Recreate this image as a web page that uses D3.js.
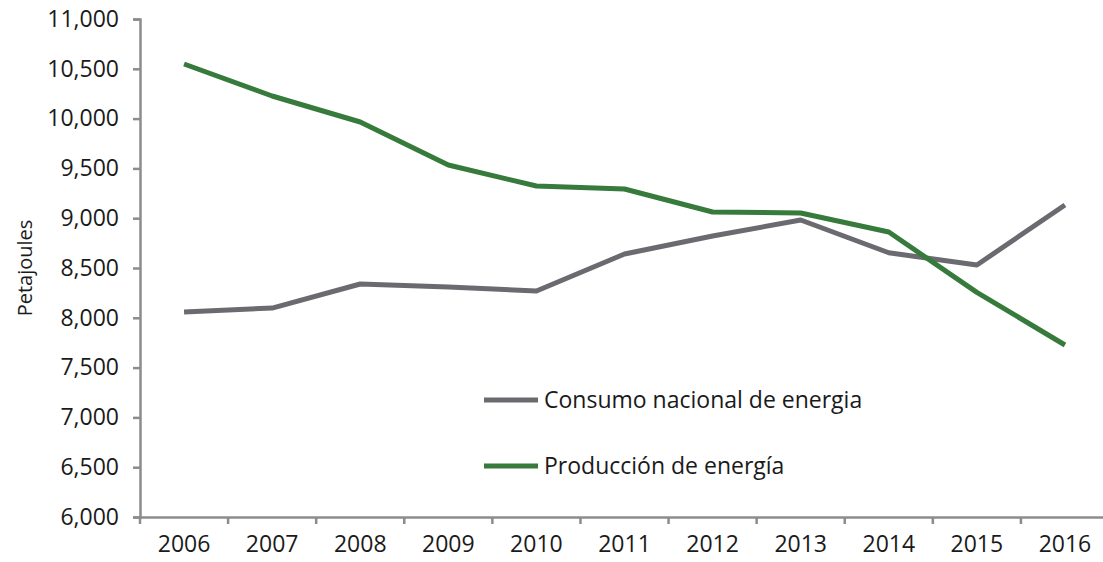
<!DOCTYPE html>
<html><head><meta charset="utf-8">
<script src="https://cdn.jsdelivr.net/npm/d3@7"></script>
<style>body{margin:0;background:#fff}svg{display:block}text{font-family:"Open Sans","Noto Sans",sans-serif;fill:#1a1a1a}</style>
</head><body><svg id="c" width="1103" height="562"></svg>
<script>
const years = ["2006","2007","2008","2009","2010","2011","2012","2013","2014","2015","2016"];
const consumo = [8058,8098,8339,8309,8269,8640,8821,8982,8653,8530,9133];
const produccion = [10548,10227,9966,9534,9323,9293,9062,9052,8861,8255,7727];
const yTicks = [6000,6500,7000,7500,8000,8500,9000,9500,10000,10500,11000];
const seriesNames = ["Consumo nacional de energia","Producción de energía"];

const svg = d3.select("#c");
const x = d3.scaleBand().domain(years).range([140,1109]);
const y = d3.scaleLinear().domain([6000,11000]).range([517,19]);
const axisColor = "#8c8c8c";

// y axis
const ya = svg.append("g").attr("transform","translate(140,0)")
  .call(d3.axisLeft(y).tickValues(yTicks).tickSize(7).tickPadding(14).tickFormat(d3.format(",")));
ya.attr("font-family",null).attr("font-size",null);
ya.select(".domain").attr("stroke",axisColor).attr("stroke-width",2.5);
ya.selectAll(".tick line").attr("stroke",axisColor).attr("stroke-width",2.5);
ya.selectAll(".tick text").attr("font-size",23).attr("fill","#1a1a1a");

// x axis
const xa = svg.append("g").attr("transform","translate(0,517)")
  .call(d3.axisBottom(x).tickSize(0).tickPadding(19));
xa.attr("font-family",null).attr("font-size",null);
xa.select(".domain").attr("stroke",axisColor).attr("stroke-width",2.5);
xa.selectAll(".tick text").attr("font-size",23).attr("fill","#1a1a1a");
// boundary ticks
xa.selectAll(".btick").data(years.map(d=>x(d)).concat([x(years[years.length-1])+x.bandwidth()]))
  .enter().append("line").attr("class","btick")
  .attr("x1",d=>d).attr("x2",d=>d).attr("y1",0).attr("y2",7)
  .attr("stroke",axisColor).attr("stroke-width",2.5);

svg.append("text").attr("transform","translate(25,268) rotate(-90)")
  .attr("text-anchor","middle").attr("dy","0.35em").attr("font-size",20).text("Petajoules");

const line = d3.line().x((d,i)=>x(years[i])+x.bandwidth()/2).y(d=>y(d));
const colors = ["#6b6a70","#367a3c"];
[consumo,produccion].forEach((s,k)=>{
  svg.append("path").datum(s).attr("d",line).attr("fill","none")
    .attr("stroke",colors[k]).attr("stroke-width",5).attr("stroke-linejoin","round");
});

// legend
const ly = [400,466];
seriesNames.forEach((n,k)=>{
  svg.append("line").attr("x1",484).attr("x2",538).attr("y1",ly[k]).attr("y2",ly[k])
    .attr("stroke",colors[k]).attr("stroke-width",5);
  svg.append("text").attr("x",544).attr("y",ly[k]).attr("dy","0.35em")
    .attr("font-size",23).text(n);
});
</script></body></html>
